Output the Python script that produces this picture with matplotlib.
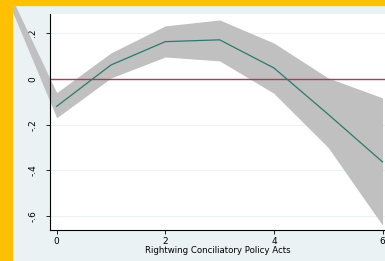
import matplotlib

matplotlib.use("Agg")
import matplotlib.pyplot as plt  # noqa: E402
from matplotlib.patches import Rectangle  # noqa: E402

# marginal effect estimates
acts = [0, 1, 2, 3, 4, 5, 6]
effect = [-0.12, 0.061, 0.163, 0.171, 0.048, -0.155, -0.363]

# confidence band; the first point (x=-1) is only there for the unclipped wedge
band_x = [-1, 0, 1, 2, 3, 4, 5, 6]
band_lo = [0.40, -0.17, 0.004, 0.096, 0.079, -0.063, -0.30, -0.64]
band_hi = [0.44, -0.06, 0.114, 0.232, 0.258, 0.157, 0.004, -0.083]

yticks = [0.2, 0, -0.2, -0.4, -0.6]
ytick_labels = [".2", "0", "-.2", "-.4", "-.6"]
xticks = [0, 2, 4, 6]

BG = "#eaf2f3"

fig = plt.figure(figsize=(3.85, 2.61), dpi=100, facecolor=BG)
ax = fig.add_axes([50 / 385, 31 / 261, 335 / 385, 216 / 261])
ax.set_facecolor("white")

ax.fill_between(band_x, band_lo, band_hi, color="#c0c0c0", lw=0, clip_on=False, zorder=1)
ax.axhline(0, color="#b03a55", lw=1.0, zorder=2)
ax.plot(acts, effect, color="#2a7a6c", lw=0.9, zorder=3)

ax.set_xlim(-0.123, 6.046)
ax.set_ylim(-0.661, 0.284)
ax.set_xticks(xticks)
ax.set_xticklabels([str(t) for t in xticks])
ax.set_yticks(yticks)
ax.set_yticklabels(ytick_labels, rotation=90, va="center")
ax.yaxis.grid(True, color=BG, lw=0.8)
ax.set_axisbelow(True)

for side in ("top", "right"):
    ax.spines[side].set_visible(False)
for side in ("left", "bottom"):
    ax.spines[side].set_color("black")
    ax.spines[side].set_linewidth(0.8)
ax.tick_params(axis="both", length=3, width=0.6, labelsize=6.5, pad=2)
ax.tick_params(axis="y", pad=6)
ax.set_xlabel("Rightwing Conciliatory Policy Acts", fontsize=6.2, labelpad=0)

# yellow frame around the screenshot
fig.patches.append(Rectangle((0, 0), 11.5 / 385, 1, transform=fig.transFigure,
                             color="#ffc000", zorder=10))
fig.patches.append(Rectangle((0, 1 - 5 / 261), 1, 5 / 261, transform=fig.transFigure,
                             color="#ffc000", zorder=10))

fig.savefig("out.png", dpi=100, facecolor=BG)
